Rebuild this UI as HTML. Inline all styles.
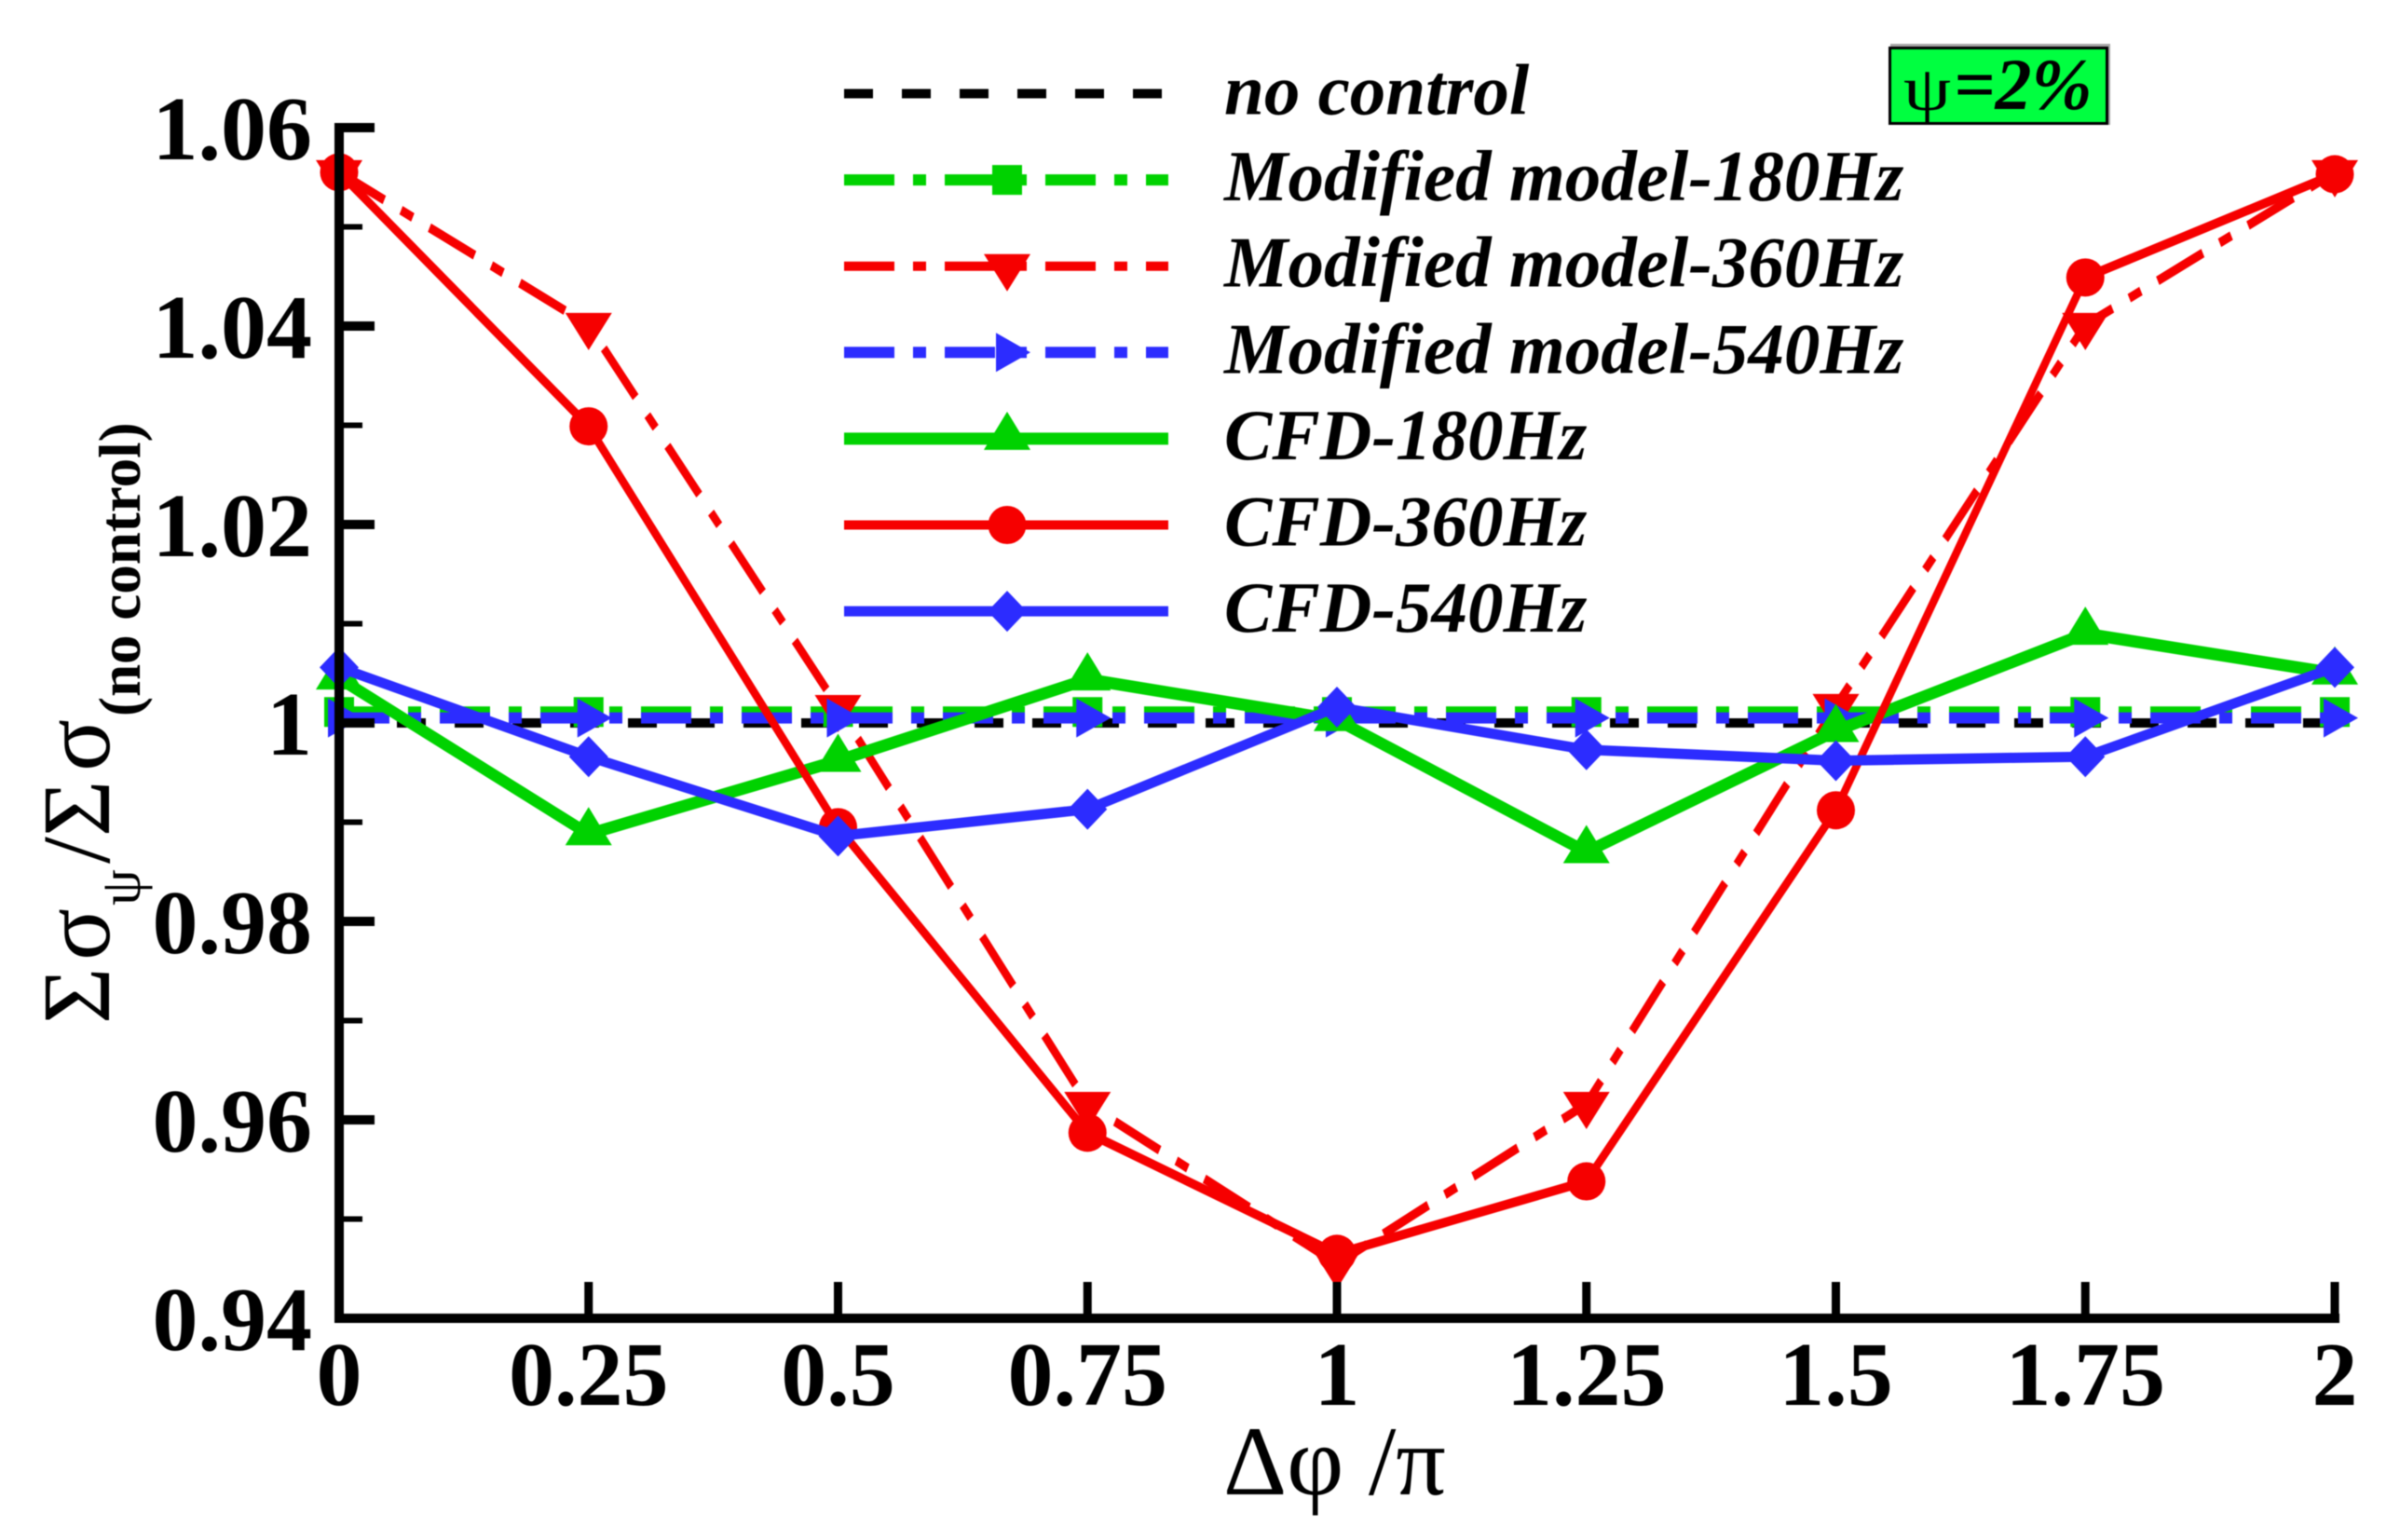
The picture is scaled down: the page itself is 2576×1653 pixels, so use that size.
<!DOCTYPE html>
<html lang="en">
<head>
<meta charset="utf-8">
<title>Sigma ratio vs phase difference</title>
<style>
html,body{margin:0;padding:0;background:#fff;}
svg{display:block;filter:blur(0.6px);}
text{font-family:"Liberation Serif",serif;fill:#000;}
</style>
</head>
<body>
<svg id="chart" xmlns="http://www.w3.org/2000/svg" width="2576" height="1653" viewBox="0 0 2576 1653">
  <rect x="0" y="0" width="2576" height="1653" fill="#ffffff"/>
  <g id="series-layer"></g>
  <g id="axis-layer"></g>
  <g id="legend-layer"></g>
  <text x="1313" y="1604" font-size="106">Δφ /π</text>
  <text transform="translate(117,1097) rotate(-90)" font-size="104"><tspan x="-2">Σ</tspan><tspan x="66">σ</tspan><tspan x="125" font-size="62" dy="33">ψ</tspan><tspan x="170" dy="-33">/</tspan><tspan x="199">Σ</tspan><tspan x="269">σ</tspan><tspan x="328" font-size="63" font-weight="bold" dy="33">(no control)</tspan></text>
  <rect x="2029" y="47" width="236" height="87" fill="#a8a8a8"/>
  <rect x="2028.5" y="51.5" width="233" height="81" fill="#00ff40" stroke="#000" stroke-width="3"/>
  <text transform="translate(2043,118) scale(1.2,1)" font-size="68">ψ</text>
  <text x="2097" y="117" font-size="78" font-weight="bold" font-style="italic">=2%</text>
</svg>
<script>
const categories = [0, 0.25, 0.5, 0.75, 1, 1.25, 1.5, 1.75, 2];
const xTickLabels = ['0', '0.25', '0.5', '0.75', '1', '1.25', '1.5', '1.75', '2'];
const yMajorTicks = [0.94, 0.96, 0.98, 1, 1.02, 1.04, 1.06];
const yTickLabels = ['0.94', '0.96', '0.98', '1', '1.02', '1.04', '1.06'];
const yMinorTicks = [0.95, 0.97, 0.99, 1.01, 1.03, 1.05];
const noControl = [1, 1, 1, 1, 1, 1, 1, 1, 1];
const model180 = [1.0011, 1.0011, 1.0011, 1.0011, 1.0011, 1.0011, 1.0011, 1.0011, 1.0011];
const model360 = [1.0555, 1.0401, 1.0016, 0.9616, 0.9455, 0.9616, 1.0017, 1.0401, 1.0555];
const model540 = [1.0005, 1.0005, 1.0005, 1.0005, 1.0005, 1.0005, 1.0005, 1.0005, 1.0005];
const cfd180 = [1.0045, 0.9888, 0.9962, 1.0044, 1.0003, 0.987, 0.9992, 1.009, 1.005];
const cfd360 = [1.0555, 1.0299, 0.9895, 0.9587, 0.9465, 0.9538, 0.9912, 1.0449, 1.0553];
const cfd540 = [1.0056, 0.9966, 0.9886, 0.9913, 1.0016, 0.9973, 0.9962, 0.9966, 1.0056];
const seriesNames = ['no control', 'Modified model-180Hz', 'Modified model-360Hz', 'Modified model-540Hz', 'CFD-180Hz', 'CFD-360Hz', 'CFD-540Hz'];

const GREEN = '#00d200', RED = '#f60000', BLUE = '#2c2cff';
const DASHDOT = '54 20 14 20';
const STRETCH = 1.25;
const seriesStyles = [
  {key: 'no-control', color: '#000', width: 10, dash: '31 31', marker: null},
  {key: 'modified-180', color: GREEN, width: 12, dash: DASHDOT, marker: 'square'},
  {key: 'modified-360', color: RED, width: 10, dash: DASHDOT, marker: 'down'},
  {key: 'modified-540', color: BLUE, width: 12, dash: DASHDOT, marker: 'right'},
  {key: 'cfd-180', color: GREEN, width: 13, dash: null, marker: 'up'},
  {key: 'cfd-360', color: RED, width: 10, dash: null, marker: 'circle'},
  {key: 'cfd-540', color: BLUE, width: 11, dash: null, marker: 'diamond'}
];
const seriesValues = [noControl, model180, model360, model540, cfd180, cfd360, cfd540];

const SVGNS = 'http://www.w3.org/2000/svg';
function xScale(v) { return 364 + v * 1071; }
function yScale(v) { return 1415 - (v - 0.94) * 10650; }
function make(tag, parent, props) {
  const el = document.createElementNS(SVGNS, tag);
  for (const k in props) el.setAttribute(k, props[k]);
  parent.appendChild(el);
  return el;
}
function markerPoints(type, x, y) {
  if (type === 'square') return [[x-16,y-16],[x+16,y-16],[x+16,y+16],[x-16,y+16]];
  if (type === 'down') return [[x-25,y-13],[x+25,y-13],[x,y+27]];
  if (type === 'up') return [[x-25,y+12],[x+25,y+12],[x,y-29]];
  if (type === 'right') return [[x-12,y-21],[x+25,y],[x-12,y+21]];
  if (type === 'diamond') return [[x-21,y],[x,y-22],[x+21,y],[x,y+22]];
  return [];
}
function drawMarker(parent, type, x, y, color) {
  let el;
  if (type === 'circle') {
    el = make('ellipse', parent, {cx: x, cy: y, rx: 20.5, ry: 20.5, fill: color});
  } else {
    el = make('polygon', parent, {points: markerPoints(type, x, y).map(p => p.join(',')).join(' '), fill: color});
  }
  
  
  return el;
}

const seriesLayer = document.getElementById('series-layer');
seriesValues.forEach(function (vals, i) {
  const st = seriesStyles[i];
  const group = make('g', seriesLayer, {});
  
  
  const line = make('polyline', group, {
    points: vals.map((v, j) => xScale(categories[j]) + ',' + (yScale(v) / STRETCH)).join(' '),
    fill: 'none', stroke: st.color, 'stroke-width': st.width / STRETCH, 'stroke-linejoin': 'miter',
    transform: 'scale(1,' + STRETCH + ')'
  });
  if (st.dash) line.setAttribute('stroke-dasharray', st.dash);
  
  
  if (st.marker) {
    vals.forEach(function (v, j) {
      drawMarker(group, st.marker, xScale(categories[j]), yScale(v), st.color);
    });
  }
});

const axisLayer = document.getElementById('axis-layer');
const yAxisLine = make('line', axisLayer, {x1: 364, y1: 132, x2: 364, y2: 1420, stroke: '#000', 'stroke-width': 10});


const xAxisLine = make('line', axisLayer, {x1: 359, y1: 1415, x2: 2511, y2: 1415, stroke: '#000', 'stroke-width': 10});



categories.forEach(function (v, i) {
  const x = xScale(v);
  if (i > 0) {
    const tick = make('line', axisLayer, {x1: x, y1: 1415, x2: x, y2: 1376, stroke: '#000', 'stroke-width': 9});
    
    
  }
  const label = make('text', axisLayer, {x: x, y: 1508, 'font-size': 98, 'font-weight': 'bold', 'text-anchor': 'middle'});
  label.textContent = xTickLabels[i];
  
  
});
yMajorTicks.forEach(function (v, i) {
  const y = yScale(v);
  const tick = make('line', axisLayer, {x1: 364, y1: y, x2: 402, y2: y, stroke: '#000', 'stroke-width': 10});
  
  
  const label = make('text', axisLayer, {x: 335, y: y + 34, 'font-size': 98, 'font-weight': 'bold', 'text-anchor': 'end'});
  label.textContent = yTickLabels[i];
  
  
});
yMinorTicks.forEach(function (v) {
  const y = yScale(v);
  const tick = make('line', axisLayer, {x1: 364, y1: y, x2: 389, y2: y, stroke: '#000', 'stroke-width': 6});
  
  
});

const legendLayer = document.getElementById('legend-layer');
const legendTop = 100.5, legendStep = 92.6;
seriesNames.forEach(function (name, i) {
  const st = seriesStyles[i];
  const y = legendTop + i * legendStep;
  const entry = make('g', legendLayer, {});
  
  
  const swatch = make('line', entry, {x1: 906, y1: y, x2: 1254, y2: y, stroke: st.color, 'stroke-width': st.width});
  if (st.dash) swatch.setAttribute('stroke-dasharray', st.dash);
  
  
  if (st.marker) drawMarker(entry, st.marker, 1081, y, st.color);
  const label = make('text', entry, {x: 1314, y: y + 22, 'font-size': 77, 'font-weight': 'bold', 'font-style': 'italic'});
  label.textContent = name;
  
  
});
</script>
</body>
</html>
